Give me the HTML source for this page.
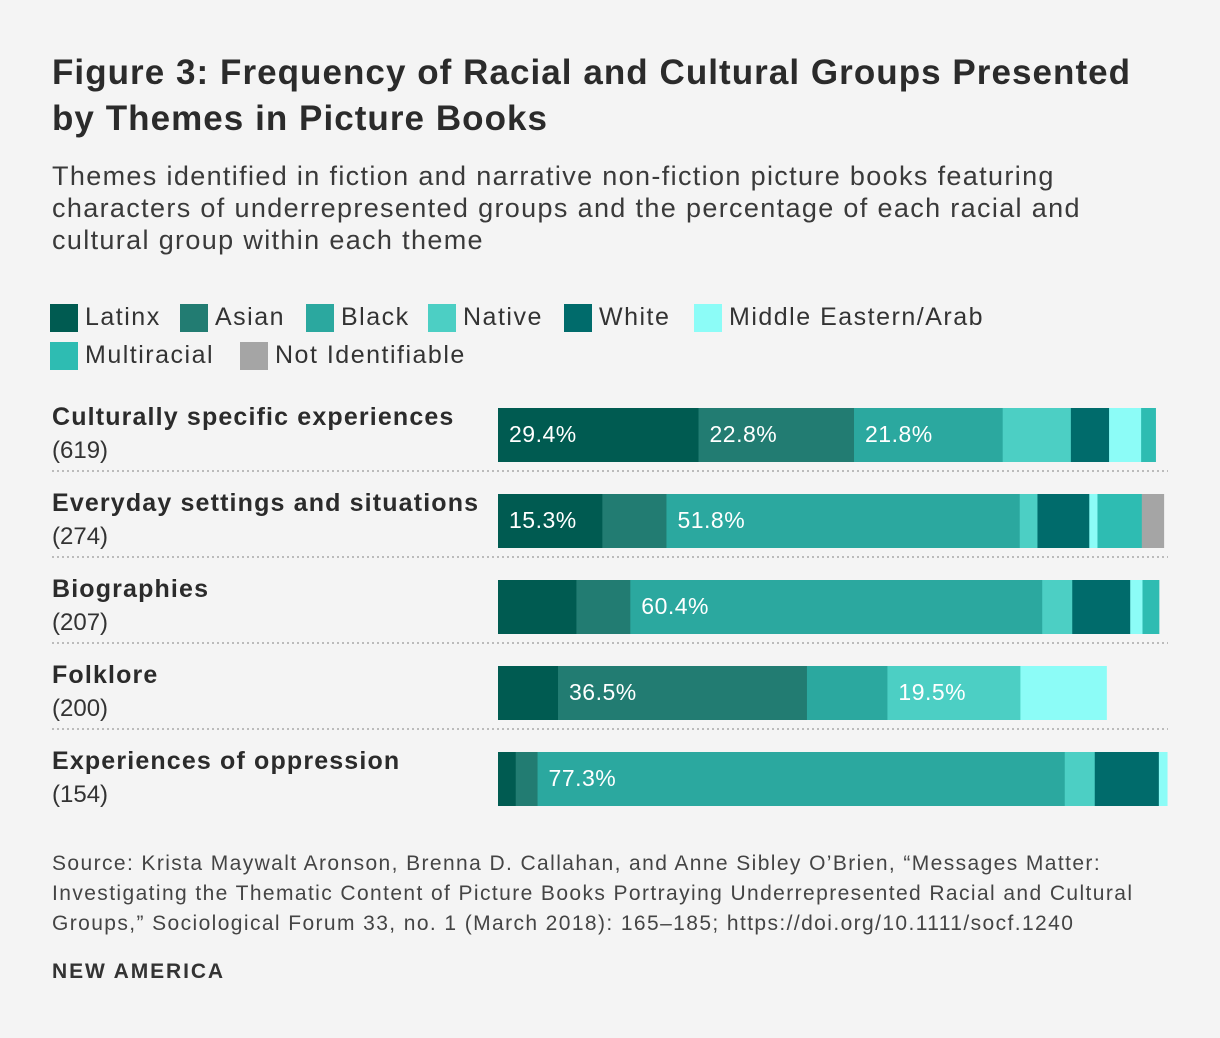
<!DOCTYPE html>
<html><head><meta charset="utf-8"><style>
body{margin:0;background:#f4f4f4;font-family:"Liberation Sans",sans-serif;color:#333;}
#wrap{position:relative;width:1220px;height:1038px;overflow:hidden;}
.t{position:absolute;left:52px;white-space:nowrap;}
</style></head><body><div id="wrap">
<div class="t" style="top:50px;font-size:35px;font-weight:bold;line-height:46px;color:#2b2b2b;letter-spacing:1.05px;">Figure 3: Frequency of Racial and Cultural Groups Presented<br>by Themes in Picture Books</div>
<div class="t" style="top:160px;font-size:27px;line-height:32px;color:#3a3a3a;letter-spacing:1.35px;">Themes identified in fiction and narrative non-fiction picture books featuring<br>characters of underrepresented groups and the percentage of each racial and<br>cultural group within each theme</div>
<svg id="chart" width="1220" height="1038" style="position:absolute;left:0;top:0"></svg>
<div class="t" style="top:849px;font-size:21px;line-height:30px;color:#444;letter-spacing:1.4px;">Source: Krista Maywalt Aronson, Brenna D. Callahan, and Anne Sibley O’Brien, “Messages Matter:<br>Investigating the Thematic Content of Picture Books Portraying Underrepresented Racial and Cultural<br>Groups,” Sociological Forum 33, no. 1 (March 2018): 165–185; https://doi.org/10.1111/socf.1240</div>
<div class="t" style="top:960px;font-size:21px;font-weight:bold;color:#333;letter-spacing:1.9px;">NEW AMERICA</div>
</div>
<script>
const groups=["Latinx","Asian","Black","Native","White","Middle Eastern/Arab","Multiracial","Not Identifiable"];
const colors=["#005b51","#227c72","#2ba89f","#4ccfc4","#006b6b","#8cfcf7","#2ebcb2","#a5a5a5"];
const themes=["Culturally specific experiences","Everyday settings and situations","Biographies","Folklore","Experiences of oppression"];
const counts=[619,274,207,200,154];
const latinx=[29.4,15.3,11.5,8.8,2.6];
const asian=[22.8,9.4,7.9,36.5,3.2];
const black=[21.8,51.8,60.4,11.8,77.3];
const native=[10.0,2.6,4.4,19.5,4.4];
const white=[5.6,7.6,8.5,0,9.4];
const mideast=[4.7,1.2,1.8,12.6,1.2];
const multi=[2.1,6.5,2.4,0,0];
const notid=[0,3.2,0,0,0];
const series=[latinx,asian,black,native,white,mideast,multi,notid];
const NS="http://www.w3.org/2000/svg";
const svg=document.getElementById('chart');
const x0=498,pxPer=6.82;
function xs(v){return v*pxPer;}
function mk(tag,attrs){const e=document.createElementNS(NS,tag);for(const k in attrs)e.setAttribute(k,attrs[k]);svg.appendChild(e);return e;}
const legPos=[[50,304],[180,304],[306,304],[428,304],[564,304],[694,304],[50,342],[240,342]];
groups.forEach((g,i)=>{
  const r=mk('rect',{x:legPos[i][0],y:legPos[i][1],width:28,height:28,fill:colors[i]});
  
  
  const t=mk('text',{x:legPos[i][0]+35,y:legPos[i][1]+21,'font-size':25,fill:'#333','letter-spacing':1.5});
  t.textContent=g;
  
  
});
themes.forEach((th,r)=>{
  const top=408+r*86;
  const l=mk('text',{x:52,y:top+17,'font-size':25,'font-weight':'bold',fill:'#2b2b2b','letter-spacing':1.15});
  l.textContent=th;
  
  
  const c=mk('text',{x:52,y:top+50,'font-size':24,fill:'#333'});
  c.textContent='('+counts[r]+')';
  
  
  let x=x0;
  series.forEach((s,i)=>{
    const v=s[r]; if(!v)return;
    const w=xs(v);
    const b=mk('rect',{x:x,y:top,width:w+0.5,height:54,fill:colors[i]});
    
    
    if(v>=15){
      const t=mk('text',{x:x+11,y:top+34,'font-size':23,fill:'#fff','letter-spacing':0.5});
      t.textContent=v.toFixed(1)+'%';
      
      
    }
    x+=w;
  });
  if(r<themes.length-1){
    const ln=mk('line',{x1:52,x2:1168,y1:top+55+8,y2:top+55+8,stroke:'#bbb','stroke-width':2,'stroke-dasharray':'2,3'});
    
    
  }
});
</script></body></html>
